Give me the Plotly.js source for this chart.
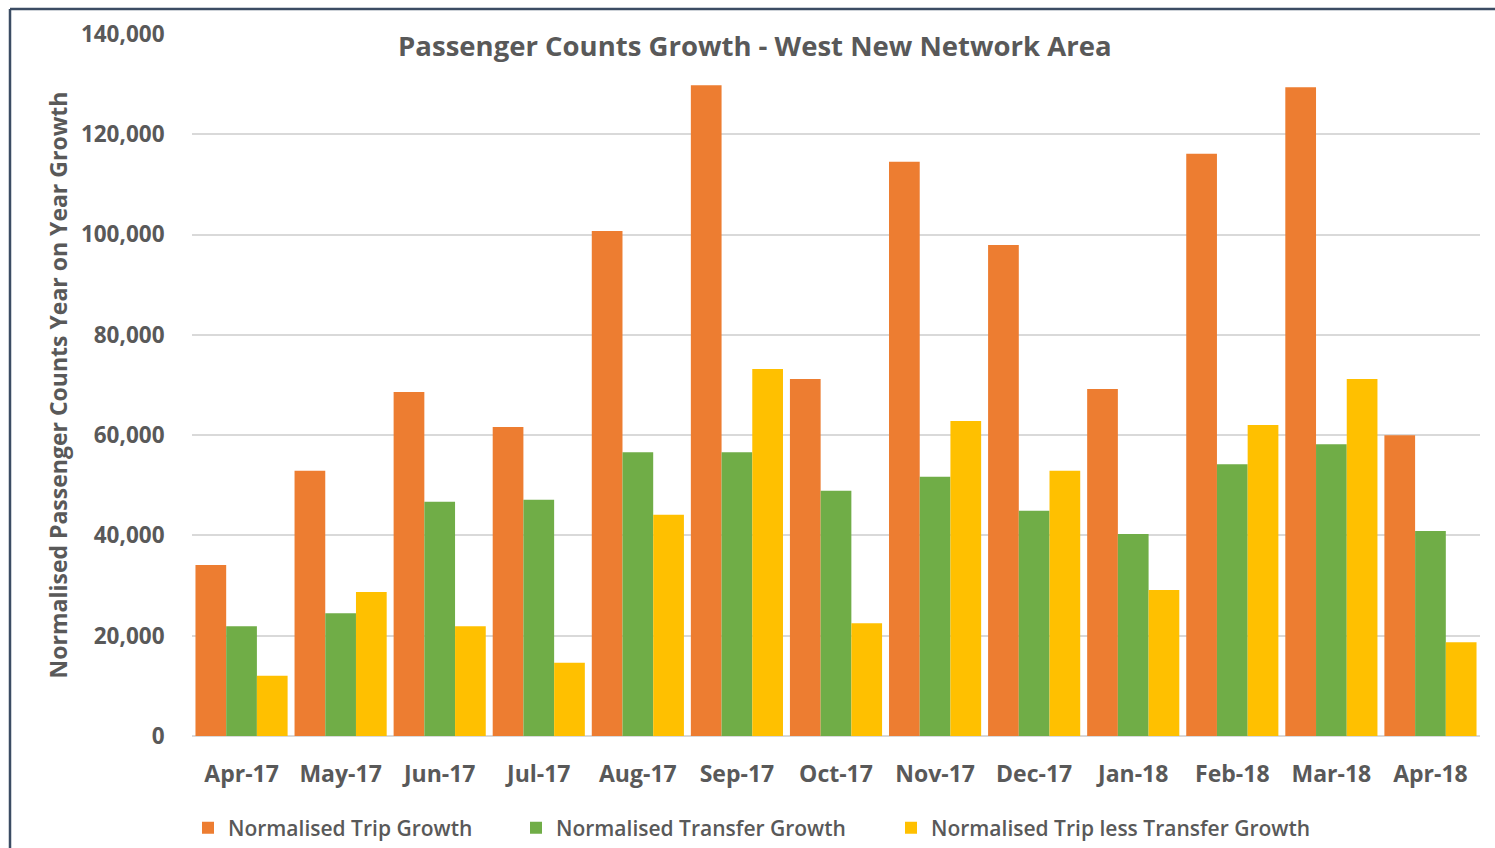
<!DOCTYPE html>
<html>
<head>
<meta charset="utf-8">
<script src="https://cdn.plot.ly/plotly-3.0.1.min.js"></script>
<style>
html,body{margin:0;padding:0;background:#fff;}
#chart{width:1495px;height:848px;}
</style>
</head>
<body>
<div id="chart"></div>
<script>
const categories = ["Apr-17","May-17","Jun-17","Jul-17","Aug-17","Sep-17","Oct-17","Nov-17","Dec-17","Jan-18","Feb-18","Mar-18","Apr-18"];
const tripGrowth = [34100, 52900, 68600, 61600, 100700, 129800, 71200, 114500, 97900, 69200, 116100, 129400, 60000];
const transferGrowth = [21900, 24500, 46700, 47100, 56600, 56600, 48900, 51700, 44900, 40300, 54200, 58200, 40900];
const tripLessTransferGrowth = [12000, 28700, 21900, 14600, 44100, 73200, 22500, 62800, 52900, 29100, 62000, 71200, 18700];
const seriesNames = ["Normalised Trip Growth", "Normalised Transfer Growth", "Normalised Trip less Transfer Growth"];
const yTickVals = [0, 20000, 40000, 60000, 80000, 100000, 120000, 140000];
const yTickText = ["0", "20,000", "40,000", "60,000", "80,000", "100,000", "120,000", "140,000"];

const FONT = '"Open Sans", "Noto Sans", sans-serif';
const GREY = '#595959';

const traces = [
  {type:'bar', x:categories, y:tripGrowth, name:seriesNames[0], marker:{color:'#ED7D31'}, legend:'legend'},
  {type:'bar', x:categories, y:transferGrowth, name:seriesNames[1], marker:{color:'#70AD47'}, legend:'legend2'},
  {type:'bar', x:categories, y:tripLessTransferGrowth, name:seriesNames[2], marker:{color:'#FFC000'}, legend:'legend3'}
];

const legendBase = {orientation:'h', yref:'container', y:1-828/848, yanchor:'middle', xanchor:'left',
  font:{family:FONT, size:21, color:GREY, weight:600}, bgcolor:'rgba(0,0,0,0)', itemwidth:30};

const layout = {
  width:1495, height:848,
  margin:{l:192, r:15, t:34, b:112},
  paper_bgcolor:'#ffffff', plot_bgcolor:'#ffffff',
  barmode:'group', bargap:0.07, bargroupgap:0,
  font:{family:FONT, color:GREY},
  title:{text:'Passenger Counts Growth - West New Network Area', xref:'paper', x:0.437, xanchor:'center',
         yref:'container', y:1-46/848, yanchor:'middle', font:{family:FONT, size:27.5, color:GREY, weight:700}},
  xaxis:{tickfont:{family:FONT, size:23, color:GREY, weight:700}, showgrid:false, showline:false,
         ticks:'outside', ticklen:17, tickcolor:'rgba(0,0,0,0)', fixedrange:true},
  yaxis:{range:[0,140000], tickvals:yTickVals, ticktext:yTickText, showgrid:true, gridcolor:'#d9d9d9', gridwidth:2,
         zeroline:true, zerolinecolor:'#d9d9d9', zerolinewidth:2,
         tickfont:{family:FONT, size:22.5, color:GREY, weight:700},
         ticks:'outside', ticklen:22, tickcolor:'rgba(0,0,0,0)',
         title:{text:'Normalised Passenger Counts Year on Year Growth', standoff:6, font:{family:FONT, size:23, color:GREY, weight:700}}},
  showlegend:true,
  legend: Object.assign({}, legendBase, {x:(188-192)/1288}),
  legend2: Object.assign({}, legendBase, {x:(516-192)/1288}),
  legend3: Object.assign({}, legendBase, {x:(891-192)/1288}),
  shapes:[
    {type:'line', xref:'paper', yref:'paper', x0:(10-192)/1288, x1:(10-192)/1288, y0:(736-9)/702, y1:(736-860)/702, line:{color:'#3b4c63', width:2.5}},
    {type:'line', xref:'paper', yref:'paper', x0:(10-192)/1288, x1:(1500-192)/1288, y0:(736-9)/702, y1:(736-9)/702, line:{color:'#3b4c63', width:2.5}}
  ]
};

Plotly.newPlot('chart', traces, layout, {displayModeBar:false, staticPlot:true});
</script>
</body>
</html>
